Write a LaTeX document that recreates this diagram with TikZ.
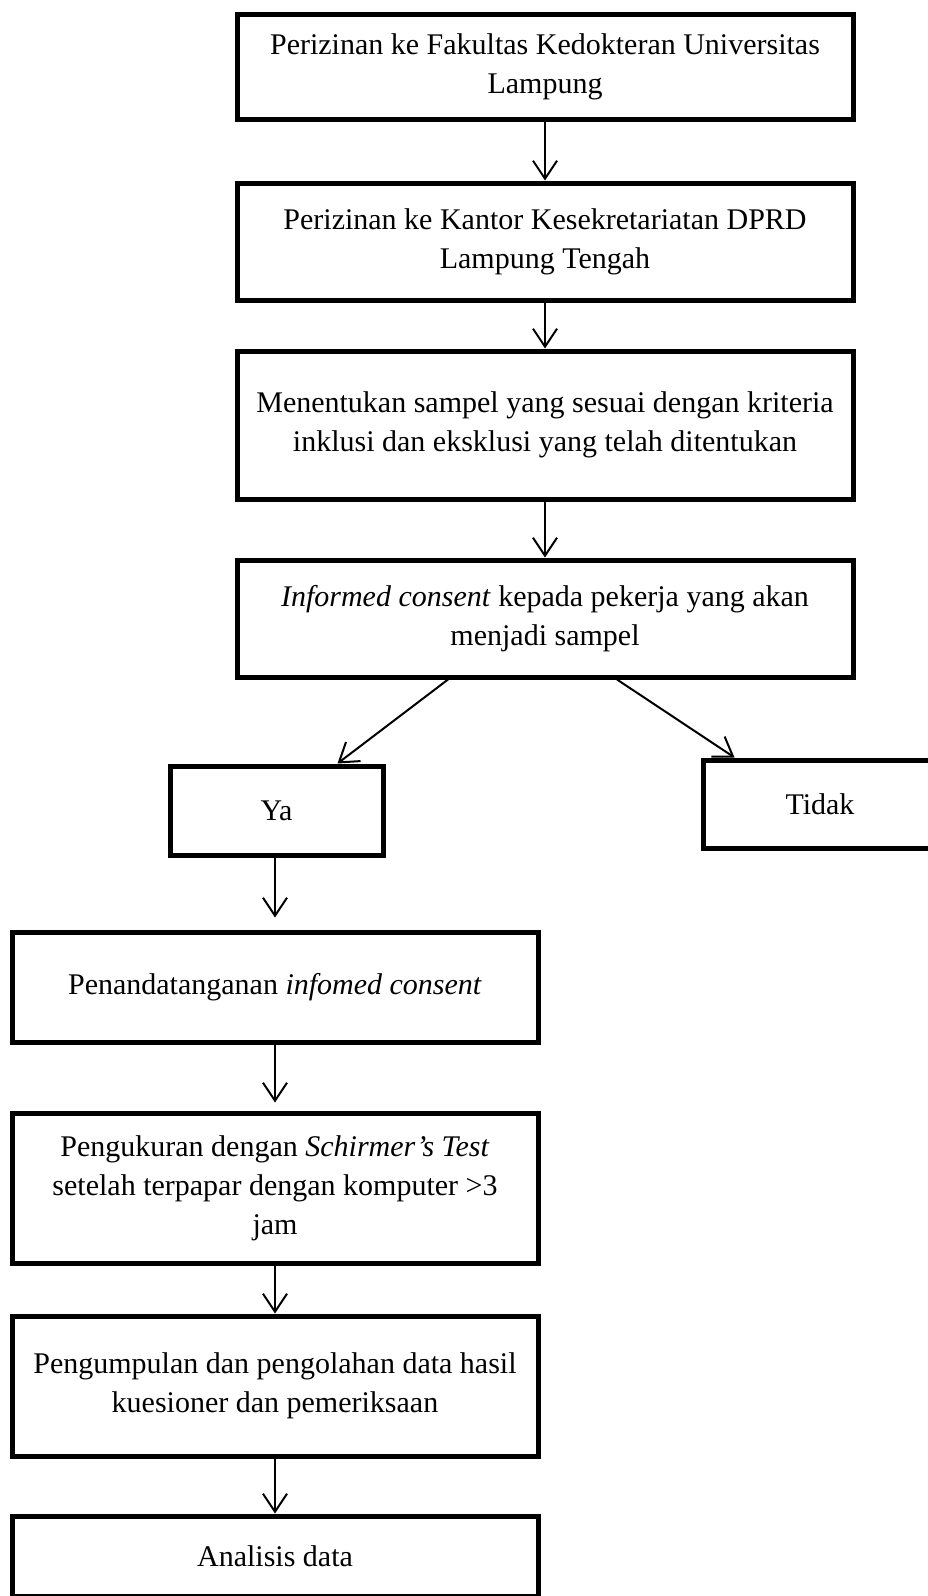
\documentclass[tikz,border=0pt]{standalone}
\usepackage{fontspec}
\setmainfont{Liberation Serif}
\usetikzlibrary{arrows.meta,positioning,calc}

\begin{document}
\begin{tikzpicture}[x=1pt,y=-1pt,
  kotak/.style={draw,line width=5pt,align=center,inner sep=0pt,font=\fontsize{30}{39}\selectfont},
  panah/.style={-{Straight Barb[length=18pt,width=24pt]},line width=2pt}]
\useasboundingbox (0,0) rectangle (928,1596);
% alur atas
\node[kotak,minimum width=616,minimum height=105] (izin1) at (545,67) {Perizinan ke Fakultas Kedokteran Universitas\\Lampung};
\node[kotak,minimum width=616,minimum height=117] (izin2) at (545,241.5) {Perizinan ke Kantor Kesekretariatan DPRD\\Lampung Tengah};
\node[kotak,minimum width=616,minimum height=148] (sampel) at (545,425) {Menentukan sampel yang sesuai dengan kriteria\\inklusi dan eksklusi yang telah ditentukan};
\node[kotak,minimum width=616,minimum height=117] (consent) at (545,618.5) {\textit{Informed consent} kepada pekerja yang akan\\menjadi sampel};
% pilihan
\node[kotak,minimum width=213,minimum height=89] (ya) at (276.5,810.5) {Ya};
\node[kotak,minimum width=234,minimum height=88] (tidak) at (820,804) {Tidak};
% alur bawah
\node[kotak,minimum width=526,minimum height=110] (ttd) at (275,987) {Penandatanganan \textit{infomed consent}};
\node[kotak,minimum width=526,minimum height=150] (ukur) at (275,1188) {Pengukuran dengan \textit{Schirmer’s Test}\\setelah terpapar dengan komputer >3\\jam};
\node[kotak,minimum width=526,minimum height=140] (kumpul) at (275,1386) {Pengumpulan dan pengolahan data hasil\\kuesioner dan pemeriksaan};
\node[kotak,minimum width=526,minimum height=80] (analisis) at (275,1556) {Analisis data};

\draw[panah] (izin1) -- (izin2);
\draw[panah] (izin2) -- (sampel);
\draw[panah] (sampel) -- (consent);
\draw[panah] ($(consent.south)+(-97,0)$) -- ($(ya.north east)+(-48,0)$);
\draw[panah] ($(consent.south)+(72,0)$) -- ($(tidak.north west)+(34,0)$);
\draw[panah] (ya.south -| ttd.north) -- ($(ttd.north)+(0,-12)$);
\draw[panah] (ttd) -- ($(ukur.north)+(0,-8)$);
\draw[panah] (ukur) -- (kumpul);
\draw[panah] (kumpul) -- (analisis);
\end{tikzpicture}
\end{document}
